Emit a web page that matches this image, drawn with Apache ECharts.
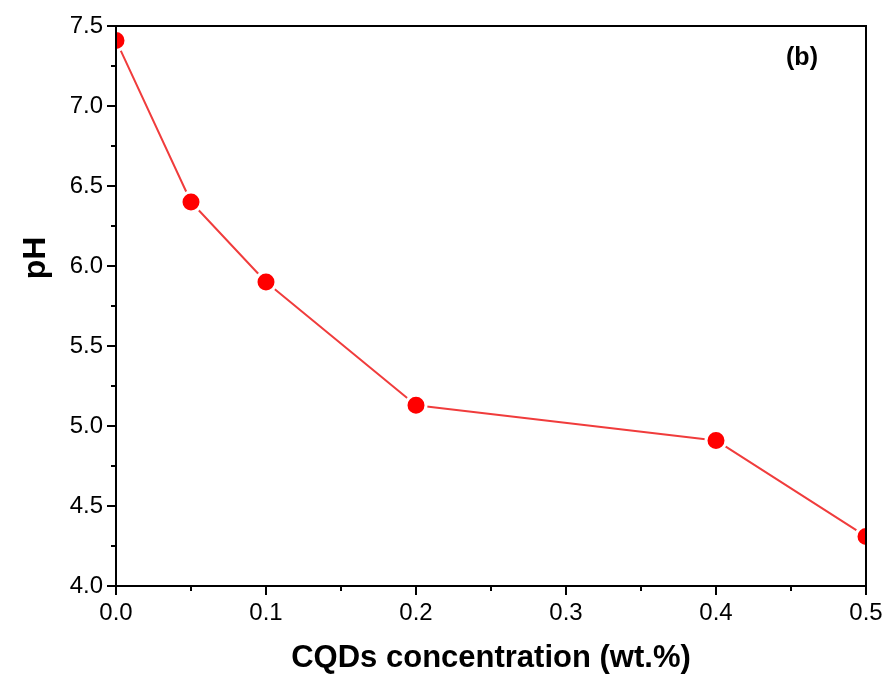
<!DOCTYPE html>
<html>
<head>
<meta charset="utf-8">
<script src="https://cdn.jsdelivr.net/npm/echarts@6/dist/echarts.min.js"></script>
<style>
  html, body { margin: 0; padding: 0; background: #fff; }
  #chart { width: 887px; height: 675px; }
</style>
</head>
<body>
<div id="chart"></div>
<script>
// CQDs concentration (wt.%) vs pH
const concentration = [0, 0.05, 0.1, 0.2, 0.4, 0.5];
const phValues = [7.41, 6.40, 5.90, 5.13, 4.91, 4.31];

const chart = echarts.init(document.getElementById('chart'));
const font = 'Liberation Sans, Arial, sans-serif';

// plot box
const L = 116, T = 26, R = 866, B = 586;

const option = {
    animation: false,
    grid: {
        left: L,
        right: 887 - R,
        top: T,
        bottom: 675 - B,
        outerBoundsMode: 'none'
    },
    xAxis: {
        type: 'value',
        z: 5,
        min: 0,
        max: 0.5,
        interval: 0.1,
        name: 'CQDs concentration (wt.%)',
        nameLocation: 'middle',
        nameGap: 57,
        nameTextStyle: { fontFamily: font, fontSize: 31, fontWeight: 'bold', color: '#000' },
        axisLine: { show: true, lineStyle: { color: '#000', width: 2 } },
        axisTick: { show: true, inside: false, length: 9, lineStyle: { color: '#000', width: 2 } },
        minorTick: { show: true, splitNumber: 2, length: 5, lineStyle: { color: '#000', width: 2 } },
        axisLabel: {
            fontFamily: font, fontSize: 24, color: '#000', margin: 15,
            formatter: v => v.toFixed(1)
        },
        splitLine: { show: false }
    },
    yAxis: {
        type: 'value',
        z: 5,
        min: 4.0,
        max: 7.5,
        interval: 0.5,
        axisLine: { show: true, lineStyle: { color: '#000', width: 2 } },
        axisTick: { show: true, inside: false, length: 9, lineStyle: { color: '#000', width: 2 } },
        minorTick: { show: true, splitNumber: 2, length: 5, lineStyle: { color: '#000', width: 2 } },
        axisLabel: {
            fontFamily: font, fontSize: 24, color: '#000', margin: 13,
            formatter: v => v.toFixed(1)
        },
        splitLine: { show: false }
    },
    graphic: [
        // white margins hide the parts of markers outside the plot box
        { type: 'rect', z: 4, silent: true, shape: { x: 0, y: 0, width: L, height: 675 }, style: { fill: '#fff' } },
        { type: 'rect', z: 4, silent: true, shape: { x: R, y: 0, width: 887 - R, height: 675 }, style: { fill: '#fff' } },
        {
            type: 'rect',
            z: 6,
            silent: true,
            shape: { x: L, y: T, width: R - L, height: B - T },
            style: { fill: 'none', stroke: '#000', lineWidth: 2 }
        },
        {
            type: 'text',
            z: 6,
            x: 36,
            y: 258,
            rotation: Math.PI / 2,
            style: {
                text: 'pH',
                fontFamily: font,
                fontSize: 32,
                fontWeight: 'bold',
                fill: '#000',
                align: 'center',
                verticalAlign: 'middle'
            }
        },
        {
            type: 'text',
            z: 6,
            x: 802,
            y: 58,
            style: {
                text: '(b)',
                fontFamily: font,
                fontSize: 25,
                fontWeight: 'bold',
                fill: '#000',
                align: 'center',
                verticalAlign: 'middle'
            }
        }
    ],
    series: [
        {
            type: 'line',
            z: 2,
            data: concentration.map((x, i) => [x, phValues[i]]),
            clip: true,
            symbol: 'circle',
            symbolSize: 20,
            lineStyle: { color: '#f03c3c', width: 2 },
            itemStyle: { color: '#ff0000', borderColor: '#fff', borderWidth: 3 }
        }
    ]
};

chart.setOption(option);
</script>
</body>
</html>
